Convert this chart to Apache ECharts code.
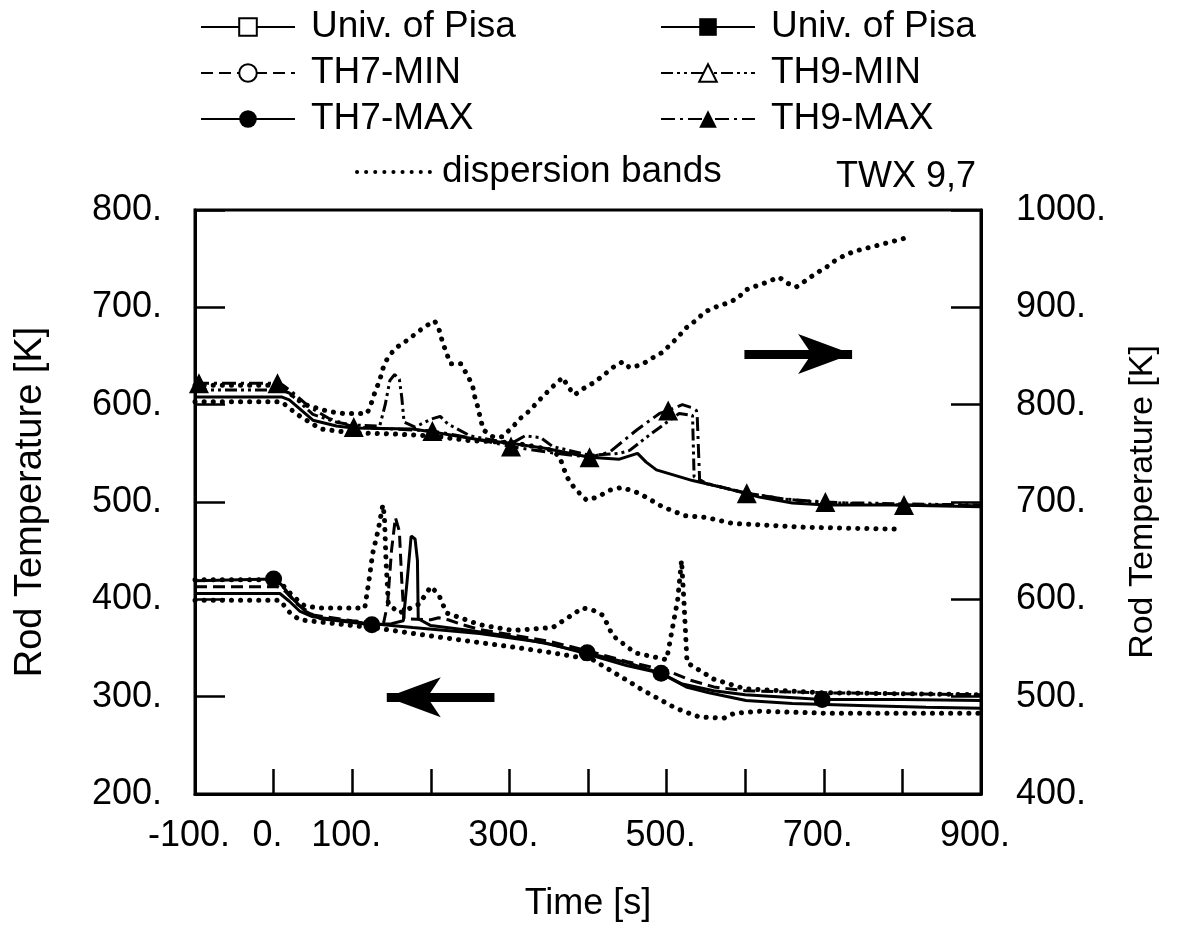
<!DOCTYPE html>
<html><head><meta charset="utf-8">
<script src="https://cdn.jsdelivr.net/npm/echarts@6/dist/echarts.min.js"></script>
<style>html,body{margin:0;padding:0;background:#fff}#c{width:1177px;height:934px}</style>
</head><body><div id="c"></div>
<script>
// ---- axis ticks / labels ----
const xShownLabels = [-100, 0, 100, 300, 500, 700, 900];
const FONT = 'Liberation Sans';

// ---- upper group (right axis, TH9) ----
const pisaUpper = [[-100,808],[10,808],[20,805],[50,784],[80,778],[101,776],[177,775],[202,772],[262,764],[304,760],[347,755],[389,748],[402,746],[440,744],[463,750],[474,741],[487,733],[533,722],[576,714],[618,705],[660,699],[703,697],[787,697],[900,695]];
const th9Min = [[-100,815],[10,815],[20,812],[50,790],[80,782],[102,779],[135,778],[142,800],[148,825],[154,831],[160,826],[163,808],[166,782],[180,777],[200,785],[212,788],[222,780],[250,768],[302,760],[320,768],[340,766],[355,757],[402,748],[440,750],[453,753],[480,770],[504,784],[516,791],[533,789],[535,726],[550,719],[602,709],[650,703],[702,699],[750,699],[802,698],[900,697]];
const th9Max = [[-100,822],[-95,822],[5,822],[12,820],[25,812],[45,798],[70,786],[102,777],[150,775],[202,773],[250,766],[302,757],[350,751],[402,746],[427,751],[462,774],[491,791],[502,794],[520,800],[532,797],[538,794],[539,787],[542,723],[551,719],[602,709],[650,703],[702,700],[750,698],[802,697],[850,697],[900,696]];
const th9MaxMarks = [-95,5,102,202,302,402,502,602,702,802];
const bandUpperHi = [[-100,820],[5,820],[15,815],[40,800],[70,793],[88,791],[119,791],[125,803],[129,813],[135,825],[139,837],[145,848],[155,858],[168,865],[181,873],[192,880],[205,886],[211,876],[215,864],[220,853],[225,842],[238,842],[246,831],[253,820],[256,808],[260,797],[263,786],[267,774],[279,767],[291,767],[304,777],[314,786],[326,794],[336,803],[347,812],[357,820],[368,828],[374,819],[383,810],[393,816],[406,822],[418,829],[431,838],[444,844],[453,838],[468,841],[482,848],[493,853],[504,861],[514,869],[525,879],[538,887],[548,895],[561,900],[576,904],[590,909],[601,918],[614,922],[628,926],[643,931],[653,925],[665,921],[678,928],[690,935],[703,941],[716,949],[728,954],[741,958],[770,964],[808,972]];
const bandUpperLo = [[-100,803],[10,803],[30,790],[60,775],[100,771],[150,770],[200,768],[250,763],[279,762],[304,761],[338,756],[355,753],[364,746],[373,726],[383,714],[398,702],[412,705],[427,712],[443,715],[465,709],[495,695],[523,686],[551,684],[584,678],[631,676],[678,674],[736,673],[800,672]];

// ---- lower group (left axis, TH7) ----
const pisaLower = [[-100,406],[8,406],[20,398],[33,388],[50,382],[113,376],[177,371],[262,365],[347,355],[389,346],[449,332],[493,324],[525,310],[554,304],[601,296],[660,293],[745,291],[830,289],[900,288]];
const th7Min = [[-100,413],[5,413],[15,408],[30,395],[50,384],[100,378],[140,376],[145,395],[150,450],[155,484],[160,470],[163,420],[166,380],[200,379],[210,381],[222,379],[240,374],[262,369],[300,364],[350,357],[400,347],[450,336],[500,327],[530,317],[560,310],[600,306],[700,304],[800,303],[900,302]];
const th7Max = [[-100,419],[0,421],[10,415],[25,400],[40,388],[60,380],[125,374],[150,375],[165,378],[170,420],[175,465],[180,462],[183,440],[184,380],[200,373],[250,368],[300,362],[350,354],[399,345],[450,335],[493,324],[520,313],[560,306],[600,302],[698,297],[800,297],[900,296]];
const th7MaxMarks = [0,125,399,493,698];
const bandLowerHi = [[-100,420],[0,420],[10,416],[25,403],[40,393],[60,391],[116,391],[122,423],[126,447],[133,471],[139,497],[141,485],[143,440],[146,395],[160,386],[185,395],[200,413],[210,405],[220,386],[262,374],[304,368],[355,371],[376,382],[393,391],[406,389],[418,384],[425,374],[431,363],[460,345],[500,338],[514,399],[519,440],[522,399],[526,335],[560,318],[600,308],[700,304],[800,303],[900,302]];
const bandLowerLo = [[-100,399],[8,399],[21,386],[33,379],[135,370],[177,365],[240,358],[304,351],[347,346],[406,338],[449,317],[469,307],[487,299],[512,288],[542,279],[573,278],[586,283],[618,285],[703,283],[787,283],[894,283],[900,283]];

// ---- arrows (direction annotations: start, tip) ----
const arrowRight = [[599,852],[736,852]];
const arrowLeft = [[281,299.5],[144,299.5]];

function items(arr, marks){
  return arr.map(([t,v]) => (marks && marks.includes(t)) ? {value:[t,v]} : {value:[t,v], symbol:'none'});
}
function lineSeries(o){
  return {
    type:'line', name:o.name, yAxisIndex:o.y, data:items(o.data,o.marks),
    symbol:o.symbol||'circle', symbolSize:o.size||16, showSymbol:true,
    itemStyle:{color:o.fill||'#000', borderColor:'#000', borderWidth:o.bw||0, opacity:o.symOpacity==null?1:o.symOpacity},
    lineStyle:{color:'#000', width:o.width||3, type:o.type||'solid', cap:o.cap||'butt'},
    z:o.z||2, animation:false, silent:true, emphasis:{disabled:true},
    markLine:o.markLine
  };
}
function arrowML(a){
  return {silent:true, animation:false, symbol:['none','arrow'], symbolSize:[30,54],
    label:{show:false}, emphasis:{disabled:true},
    lineStyle:{color:'#000', width:9, type:'solid', opacity:1},
    itemStyle:{color:'#000', opacity:1},
    data:[[{coord:a[0]},{coord:a[1]}]]};
}
const dotType = [0.1, 9];

const series = [
  lineSeries({name:'Univ. of Pisa ', y:1, data:pisaUpper, symbol:'rect', z:3, markLine:arrowML(arrowRight)}),
  lineSeries({name:'TH9-MIN', y:1, data:th9Min, symbol:'triangle', fill:'#fff', bw:2, type:[12,4,3,4,3,4]}),
  lineSeries({name:'TH9-MAX', y:1, data:th9Max, marks:th9MaxMarks, symbol:'triangle', size:20, type:[14,5,3,5]}),
  lineSeries({name:'dispersion bands', y:1, data:bandUpperHi, type:dotType, cap:'round', width:5, symOpacity:0}),
  lineSeries({name:'dispersion bands', y:1, data:bandUpperLo, type:dotType, cap:'round', width:5, symOpacity:0}),
  lineSeries({name:'Univ. of Pisa', y:0, data:pisaLower, symbol:'rect', fill:'#fff', bw:2, z:3, markLine:arrowML(arrowLeft)}),
  lineSeries({name:'TH7-MIN', y:0, data:th7Min, symbol:'circle', fill:'#fff', bw:2, type:[12,6]}),
  lineSeries({name:'TH7-MAX', y:0, data:th7Max, marks:th7MaxMarks, symbol:'circle', size:17}),
  lineSeries({name:'dispersion bands', y:0, data:bandLowerHi, type:dotType, cap:'round', width:5, symOpacity:0}),
  lineSeries({name:'dispersion bands', y:0, data:bandLowerLo, type:dotType, cap:'round', width:5, symOpacity:0})
];

const legendBase = {
  orient:'vertical', selectedMode:false, itemWidth:94, itemHeight:22, itemGap:8,
  textStyle:{fontSize:37, fontFamily:FONT, color:'#000', lineHeight:38, padding:[0,0,0,11]},
  formatter:n => n.trim()
};

const axisLabelStyle = {color:'#000', fontSize:36, fontFamily:FONT};
const option = {
  backgroundColor:'#fff',
  animation:false,
  title:{text:'TWX 9,7', right:196, top:154, textStyle:{fontSize:36, fontWeight:'normal', fontFamily:FONT, color:'#000'}},
  legend:[
    Object.assign({}, legendBase, {left:195, top:3, data:['Univ. of Pisa','TH7-MIN','TH7-MAX']}),
    Object.assign({}, legendBase, {left:655, top:3, data:['Univ. of Pisa ','TH9-MIN','TH9-MAX']}),
    Object.assign({}, legendBase, {left:350, top:148, itemWidth:78, data:['dispersion bands'],
      lineStyle:{width:4, cap:'round', type:[0.1,9], color:'#000'},
      textStyle:Object.assign({}, legendBase.textStyle, {padding:[0,0,0,2]})})
  ],
  grid:{left:195, right:196, top:210, bottom:140, show:true, borderColor:'#000', borderWidth:3, containLabel:false},
  xAxis:{type:'value', min:-100, max:900, interval:100,
    axisLine:{show:true, onZero:false, lineStyle:{color:'#000', width:3}},
    axisTick:{show:true, inside:true, length:25, lineStyle:{color:'#000', width:2.5}},
    axisLabel:Object.assign({}, axisLabelStyle, {margin:24, padding:[0,12,0,0], formatter:v => xShownLabels.includes(v) ? v + '.' : ''}),
    splitLine:{show:false},
    name:'Time [s]', nameLocation:'middle', nameGap:92, nameTextStyle:{fontSize:36, fontFamily:FONT, color:'#000'}},
  yAxis:[
    {type:'value', min:200, max:800, interval:100, position:'left',
      axisLine:{show:true, onZero:false, lineStyle:{color:'#000', width:3}},
      axisTick:{show:true, inside:true, length:30, lineStyle:{color:'#000', width:2.5}},
      axisLabel:Object.assign({}, axisLabelStyle, {margin:33, formatter:v => v + '.'}),
      splitLine:{show:false},
      name:'Rod Temperature [K]', nameLocation:'middle', nameGap:145, nameRotate:90,
      nameTextStyle:{fontSize:38, fontFamily:FONT, color:'#000'}},
    {type:'value', min:400, max:1000, interval:100, position:'right',
      axisLine:{show:true, onZero:false, lineStyle:{color:'#000', width:3}},
      axisTick:{show:true, inside:true, length:30, lineStyle:{color:'#000', width:2.5}},
      axisLabel:Object.assign({}, axisLabelStyle, {margin:35, formatter:v => v + '.'}),
      splitLine:{show:false},
      name:'Rod Temperature [K]', nameLocation:'middle', nameGap:145, nameRotate:90,
      nameTextStyle:{fontSize:34, fontFamily:FONT, color:'#000'}}
  ],
  series:series
};
const chart = echarts.init(document.getElementById('c'), null, {renderer:'canvas'});
chart.setOption(option);
</script></body></html>
